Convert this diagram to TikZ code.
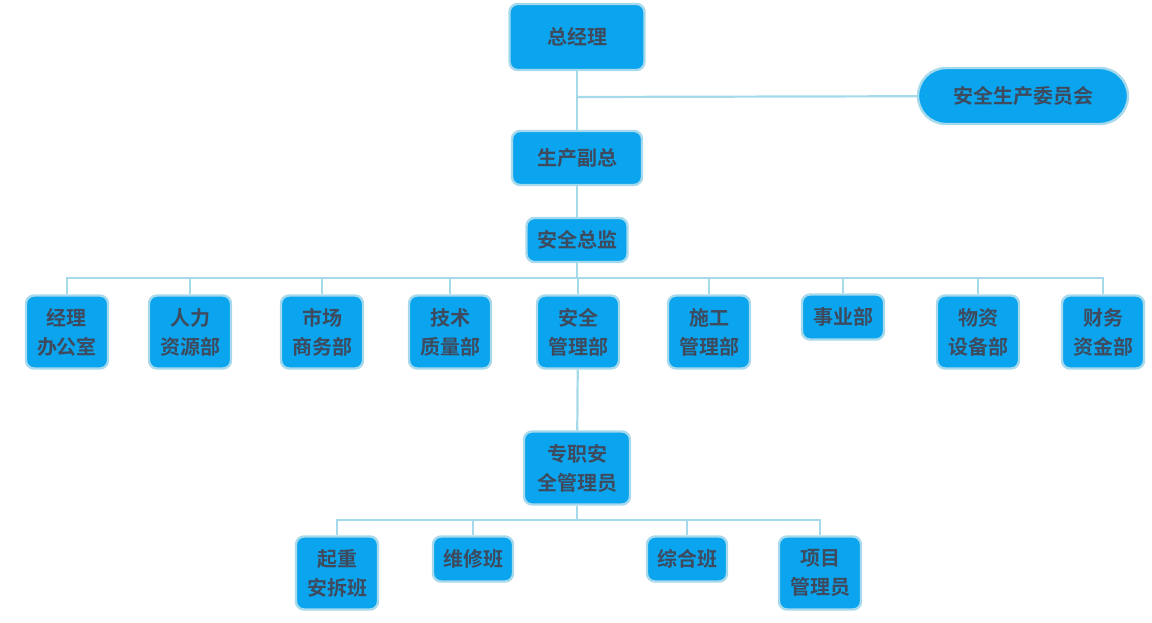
\documentclass[tikz,border=0pt]{standalone}
\usepackage{fontspec}
\setmainfont{Noto Sans CJK SC}[BoldFont={* Bold}]
\usetikzlibrary{positioning}
\definecolor{boxfill}{HTML}{0AA5EE}
\definecolor{boxline}{HTML}{A6D9EC}
\definecolor{boxtext}{HTML}{3E4A5E}
\definecolor{wire}{HTML}{A4DAEA}
\tikzset{
  box/.style={draw=boxline,line width=1.2pt,fill=boxfill,rounded corners=4pt,
    text=boxtext,font=\bfseries\fontsize{10}{14.5}\selectfont,align=center,
    inner sep=0pt},
  link/.style={draw=wire,line width=1.1pt}
}
\begin{document}
\begin{tikzpicture}[x=0.5pt,y=-0.5pt]
\useasboundingbox (0,0) rectangle (1152,622);
% top chain
\node[box,minimum width=67.5pt,minimum height=33pt] (gm) at (577,37) {总经理};
\node[box,minimum width=105pt,minimum height=28pt,rounded corners=14pt] (comm) at (1023,96) {安全生产委员会};
\node[box,minimum width=65pt,minimum height=27pt] (vp) at (577,158) {生产副总};
\node[box,minimum width=50.5pt,minimum height=22pt] (dir) at (577,240) {安全总监};
\coordinate (bus) at (577,278);
\coordinate (tee) at (577,97);
\draw[link] (gm) -- (vp);
\draw[link] (tee) -- (comm);
\draw[link] (vp) -- (dir);
% departments
\foreach \n/\x/\t in {d1/67/经理\\办公室, d2/190/人力\\资源部, d3/322/市场\\商务部,
  d4/450/技术\\质量部, d5/578/安全\\管理部, d6/709/施工\\管理部,
  d8/978/物资\\设备部, d9/1103/财务\\资金部}
  \node[box,minimum width=41pt,minimum height=36.5pt] (\n) at (\x,332) {\t};
\node[box,minimum width=41pt,minimum height=22.5pt] (d7) at (843,317) {事业部};
\draw[link] (dir) -- (bus);
\foreach \n in {d1,d2,d3,d4,d5,d6,d7,d8,d9}
  \draw[link] (bus) -| (\n);
% safety officer and teams
\node[box,minimum width=53pt,minimum height=36.5pt] (off) at (577,468) {专职安\\全管理员};
\coordinate (bus2) at (577,520);
\node[box,minimum width=41pt,minimum height=36.5pt] (t1) at (337,573) {起重\\安拆班};
\node[box,minimum width=40pt,minimum height=22.5pt] (t2) at (473,559) {维修班};
\node[box,minimum width=40pt,minimum height=22.5pt] (t3) at (687,559) {综合班};
\node[box,minimum width=41pt,minimum height=36.5pt] (t4) at (820,573) {项目\\管理员};
\draw[link] (d5) -- (off);
\draw[link] (off) -- (bus2);
\foreach \n in {t1,t2,t3,t4}
  \draw[link] (bus2) -| (\n);
\end{tikzpicture}
\end{document}
